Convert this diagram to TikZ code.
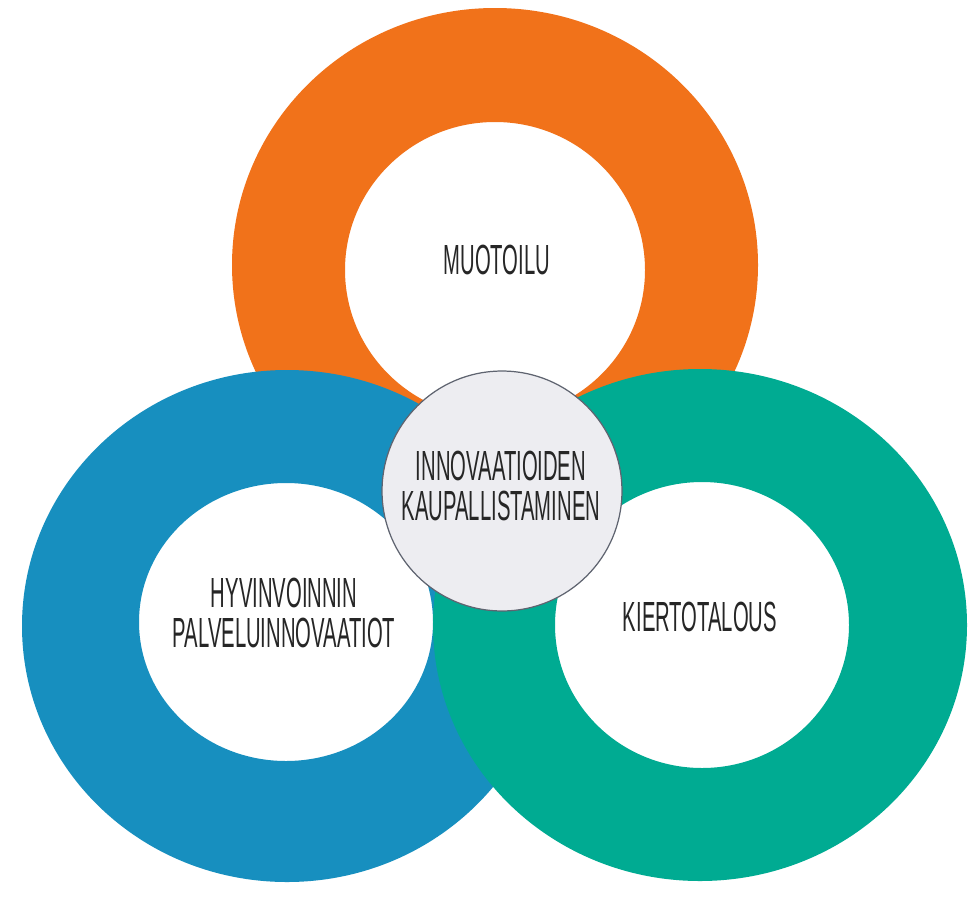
\documentclass[tikz,border=0pt]{standalone}
\usepackage{fontspec}
\newfontfamily\kapea[FakeStretch=0.48]{Liberation Sans}
\usetikzlibrary{positioning}
\definecolor{oranssi}{HTML}{F1721A}
\definecolor{sininen}{HTML}{178FBF}
\definecolor{vihrea}{HTML}{00AB92}
\definecolor{harmaa}{HTML}{EDEDF1}
\definecolor{reuna}{HTML}{5F6470}

\begin{document}
\begin{tikzpicture}[x=0.02cm,y=-0.02cm,
    rengas/.style={even odd rule},
    teksti/.style={font=\kapea\fontsize{24}{23.3}\selectfont,align=center,text=black!85}]
    \useasboundingbox[fill=white] (0,0) rectangle (970,896);

    % \coordinate (identifier) at (centre of ring);
    \coordinate (o) at (495,265);   % orange, outer
    \coordinate (oi) at (495,270);  % orange, hole
    \coordinate (s) at (287,626);   % blue, outer
    \coordinate (si) at (286,622);  % blue, hole
    \coordinate (v) at (700,625);   % green, outer
    \coordinate (vi) at (702,625);  % green, hole

    % rings: outer ellipse with the hole cut out, drawn orange -> blue -> green
    \fill[rengas,oranssi] (o) ellipse [x radius=263,y radius=257]
        (oi) ellipse [x radius=150,y radius=148];
    \fill[rengas,sininen] (s) ellipse [x radius=265,y radius=256]
        (si) ellipse [x radius=147,y radius=139];
    \fill[rengas,vihrea] (v) ellipse [x radius=267,y radius=256]
        (vi) ellipse [x radius=147,y radius=143];

    % centre circle
    \node[circle,draw=reuna,line width=0.7pt,fill=harmaa,minimum size=4.8cm,inner sep=0pt] (keskus) at (502,491) {};

    % \node[options] (identifier) at (position) {display};
    \node[teksti] (muotoilu) at (497,260) {MUOTOILU};
    \node[teksti] (kaupallistaminen) at (501,486) {INNOVAATIOIDEN\\KAUPALLISTAMINEN};
    \node[teksti] (hyvinvointi) at (284,613) {HYVINVOINNIN\\PALVELUINNOVAATIOT};
    \node[teksti] (kiertotalous) at (700,617) {KIERTOTALOUS};
\end{tikzpicture}
\end{document}
